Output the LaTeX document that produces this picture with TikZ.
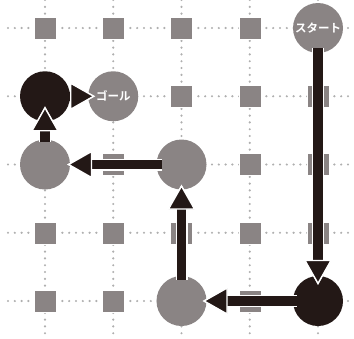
\documentclass[tikz,border=0pt]{standalone}
\usepackage{fontspec}
\newfontfamily\jpfont[BoldFont={Noto Sans CJK JP Bold}]{Noto Sans CJK JP}
\usetikzlibrary{arrows.meta}
\definecolor{stonegray}{RGB}{138,132,132}
\definecolor{dotgray}{RGB}{175,175,175}
\definecolor{inkblack}{RGB}{35,24,22}

\begin{document}
\begin{tikzpicture}[x=1pt,y=-1pt,
    gridline/.style={dotgray, line width=2.4pt, line cap=round, dash pattern=on 0pt off 6.8pt},
    tilebox/.style={fill=stonegray, draw=white, line width=0.4pt, minimum size=22pt, inner sep=0pt},
    stopnode/.style={circle, fill=stonegray, minimum size=50pt, inner sep=0pt, text=white,
        font=\jpfont\bfseries\fontsize{11.5}{12}\selectfont},
    nownode/.style={circle, fill=inkblack, minimum size=50pt, inner sep=0pt},
    movearrow/.style={inkblack, line width=9.5pt,
        -{Triangle[length=25pt 0 0,width=28pt 0 0,line width=1.4pt 0 0,color=white,fill=inkblack]},
        preaction={draw=white, line width=12pt, -{Triangle[length=25pt 0 0,width=28pt 0 0,line width=0pt 0 0]}}}]
    \useasboundingbox (0,0) rectangle (354,338);
    % board
    \foreach \i in {0,...,4}
    {
    \draw[gridline] (8,28+68.25*\i) -- (354,28+68.25*\i);
    \draw[gridline] (45+68.25*\i,0) -- (45+68.25*\i,338);
    }
    \foreach \i in {0,...,4}
    {
    \foreach \j in {0,...,4}
    {
    \node[tilebox] (t\i\j) at (45+68.25*\i,28+68.25*\j) {};
    }
    }
    % stops
    \node[stopnode] (start) at (t40) {スタート};
    \node[stopnode] (goal) at (t11) {ゴール};
    \node[nownode] (p01) at (t01) {};
    \node[stopnode] (p02) at (t02) {};
    \node[stopnode] (p22) at (t22) {};
    \node[stopnode] (p24) at (t24) {};
    \node[nownode] (p44) at (t44) {};
    % route
    \draw[movearrow, shorten <=-5pt, shorten >=-9pt] (start) -- (p44);
    \draw[movearrow, shorten <=-4pt, shorten >=-4pt] (p44) -- (p24);
    \draw[movearrow, shorten <=-4pt, shorten >=-5pt] (p24) -- (p22);
    \draw[movearrow, shorten <=-6pt, shorten >=-3pt] (p22) -- (p02);
    \draw[movearrow, shorten <=-3pt, shorten >=-15pt] (p02) -- (p01);
    \draw[movearrow, shorten <=-8pt, shorten >=-7pt] (p01) -- (goal);
\end{tikzpicture}
\end{document}
